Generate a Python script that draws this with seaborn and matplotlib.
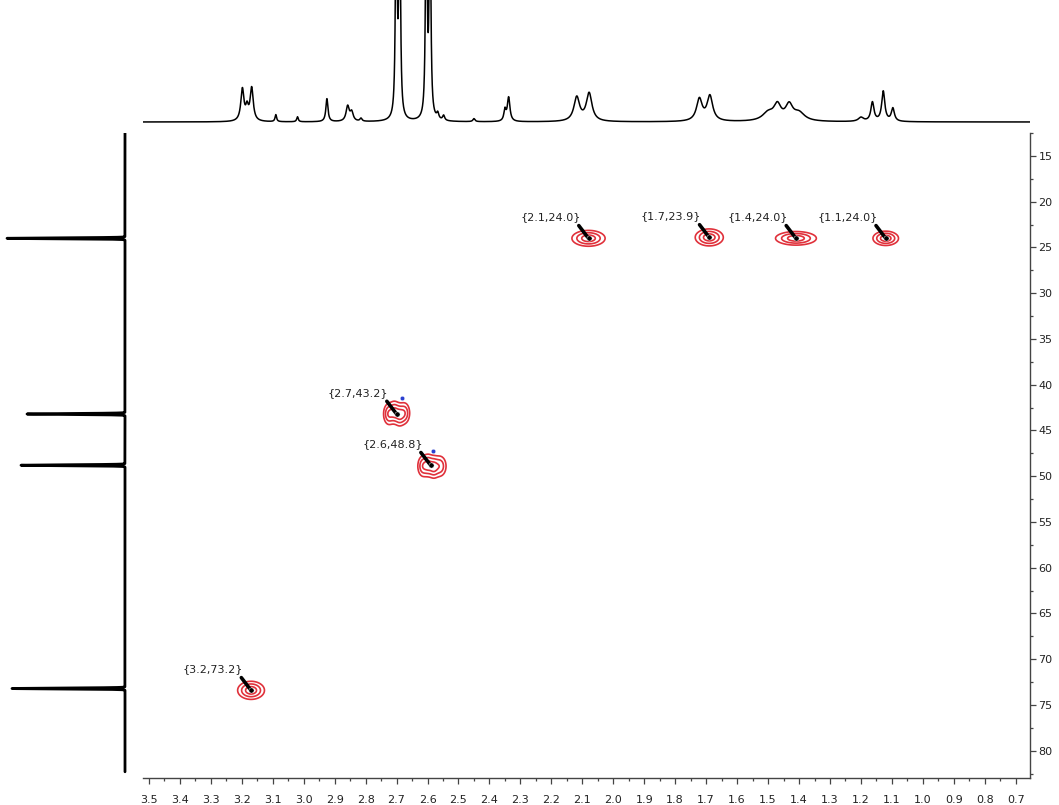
import numpy as np
import pandas as pd
import matplotlib
matplotlib.use("Agg")
import matplotlib.pyplot as plt
import seaborn as sns
from matplotlib.ticker import MultipleLocator, FormatStrFormatter

# --- 1H trace on top: peak shift (ppm), height, half width (ppm) ---
h_shift = [3.198, 3.183, 3.168, 3.09, 3.02, 2.925, 2.858, 2.845, 2.815,
           2.701, 2.690, 2.604, 2.592, 2.567, 2.548, 2.45,
           2.350, 2.338, 2.118, 2.078, 1.722, 1.688,
           1.500, 1.470, 1.432, 1.400, 1.200, 1.163, 1.128, 1.097]
h_height = [32, 12, 33, 7, 5, 23, 15, 9, 3,
            300, 300, 300, 300, 6, 5, 3,
            11, 24, 24, 28, 22, 25,
            8, 15, 15, 8, 4, 19, 30, 13]
h_width = [0.006, 0.005, 0.006, 0.003, 0.003, 0.004, 0.006, 0.006, 0.004,
           0.0025, 0.0025, 0.0025, 0.0025, 0.004, 0.004, 0.004,
           0.004, 0.005, 0.011, 0.011, 0.011, 0.011,
           0.022, 0.014, 0.014, 0.022, 0.01, 0.006, 0.006, 0.006]

# --- 13C projection on the left ---
c_shift = [24.0, 43.2, 48.8, 73.2]
c_height = [118, 98, 104, 113]

# --- HSQC cross peaks (labels as printed) ---
labels = ["{2.1,24.0}", "{1.7,23.9}", "{1.4,24.0}", "{1.1,24.0}",
          "{2.7,43.2}", "{2.6,48.8}", "{3.2,73.2}"]
pk_h = [2.08, 1.69, 1.41, 1.12, 2.70, 2.59, 3.17]
pk_c = [24.0, 23.9, 24.0, 24.0, 43.2, 48.8, 73.4]

# contour components: 1H shift, 13C shift, sigma 1H, sigma 13C, amplitude
comp_h = [2.08, 1.69, 1.41, 1.12,
          2.725, 2.707, 2.690, 2.674,
          2.615, 2.598, 2.580, 2.560,
          3.17]
comp_c = [24.0, 23.9, 24.0, 24.0,
          43.2, 43.0, 43.3, 43.1,
          48.9, 48.8, 49.0, 48.9,
          73.4]
comp_sh = [0.026, 0.022, 0.032, 0.020,
           0.009, 0.009, 0.009, 0.009,
           0.009, 0.009, 0.009, 0.011,
           0.021]
comp_sc = [0.42, 0.45, 0.36, 0.38,
           0.6, 0.6, 0.6, 0.6,
           0.6, 0.6, 0.6, 0.6,
           0.48]
comp_amp = [1, 1, 1, 1,
            0.7, 0.8, 0.8, 0.6,
            0.6, 0.8, 0.8, 0.6,
            1]

blue_h = [2.683, 2.583]
blue_c = [41.4, 47.2]

sns.set_theme(style="white")
plt.rcParams["font.family"] = ["DejaVu Sans"]

W, H = 1059, 805
fig = plt.figure(figsize=(W / 100, H / 100), dpi=100)
x_lo, x_hi = 3.519, 0.654
y_top, y_bot = 12.49, 82.98

ax = fig.add_axes([143 / W, 1 - 778 / H, (1030 - 143) / W, (778 - 133) / H])
ax_top = fig.add_axes([143 / W, 1 - 128 / H, (1030 - 143) / W, 128 / H])
ax_left = fig.add_axes([0, 1 - 778 / H, 130 / W, (778 - 133) / H])

# top 1H trace
hx = np.linspace(x_lo, x_hi, 12000)
hy = np.zeros_like(hx)
for s, a, w in zip(h_shift, h_height, h_width):
    hy += a * w ** 2 / ((hx - s) ** 2 + w ** 2)
sns.lineplot(x=hx, y=hy, ax=ax_top, color="black", lw=1.1, sort=False, estimator=None)
ax_top.set_xlim(x_lo, x_hi)
ax_top.set_ylim(-6, 122)
ax_top.axis("off")

# left 13C projection
cy = np.linspace(y_top, 82.3, 20000)
cx = np.zeros_like(cy)
for s, a in zip(c_shift, c_height):
    cx += a * np.exp(-0.5 * ((cy - s) / 0.05) ** 2)
sns.lineplot(x=cx, y=cy, ax=ax_left, color="black", lw=2.0, sort=False,
             estimator=None, orient="y")
ax_left.set_xlim(125, -5)
ax_left.set_ylim(y_bot, y_top)
ax_left.axis("off")

# main 2D contours
gx = np.linspace(x_hi, x_lo, 1000)
gy = np.linspace(y_top, y_bot, 1000)
GX, GY = np.meshgrid(gx, gy)
Z = np.zeros_like(GX)
for h, c, sh, sc, a in zip(comp_h, comp_c, comp_sh, comp_sc, comp_amp):
    Z += a * np.exp(-0.5 * (((GX - h) / sh) ** 2 + ((GY - c) / sc) ** 2))
ax.contour(GX, GY, Z, levels=[0.12, 0.35, 0.7], colors="#e0313b", linewidths=1.2)

peaks = pd.DataFrame({"h": pk_h, "c": pk_c, "label": labels})
sns.scatterplot(data=peaks, x="h", y="c", ax=ax, color="black", s=14, zorder=5, legend=False)
sns.scatterplot(x=blue_h, y=blue_c, ax=ax, color="#2a3fd0", s=10, zorder=5, legend=False)
for _, r in peaks.iterrows():
    ax.annotate(r["label"], xy=(r["h"], r["c"]), xytext=(-8, 16),
                textcoords="offset pixels", ha="right", va="bottom",
                fontsize=8, color="#222222",
                arrowprops=dict(arrowstyle="-", color="black", lw=2.6,
                                shrinkA=0, shrinkB=0, relpos=(0.93, 0)))

ax.set_xlim(x_lo, x_hi)
ax.set_ylim(y_bot, y_top)
ax.set_xlabel("")
ax.set_ylabel("")
for side in ["top", "left"]:
    ax.spines[side].set_visible(False)
for side in ["bottom", "right"]:
    ax.spines[side].set_color("#444444")
    ax.spines[side].set_linewidth(1.0)
ax.xaxis.set_major_locator(MultipleLocator(0.1))
ax.xaxis.set_minor_locator(MultipleLocator(0.05))
ax.xaxis.set_major_formatter(FormatStrFormatter("%.1f"))
ax.yaxis.set_major_locator(MultipleLocator(5))
ax.yaxis.set_minor_locator(MultipleLocator(2.5))
ax.yaxis.tick_right()
ax.tick_params(axis="both", which="major", direction="out", length=4, width=0.9,
               colors="#444444", labelcolor="#222222", labelsize=8, pad=8)
ax.tick_params(axis="both", which="minor", direction="out", length=2, width=0.9,
               colors="#444444")
ax.tick_params(axis="x", bottom=True, which="both")
ax.tick_params(axis="y", right=True, left=False, which="both", pad=2)

fig.savefig("out.png", dpi=100)
